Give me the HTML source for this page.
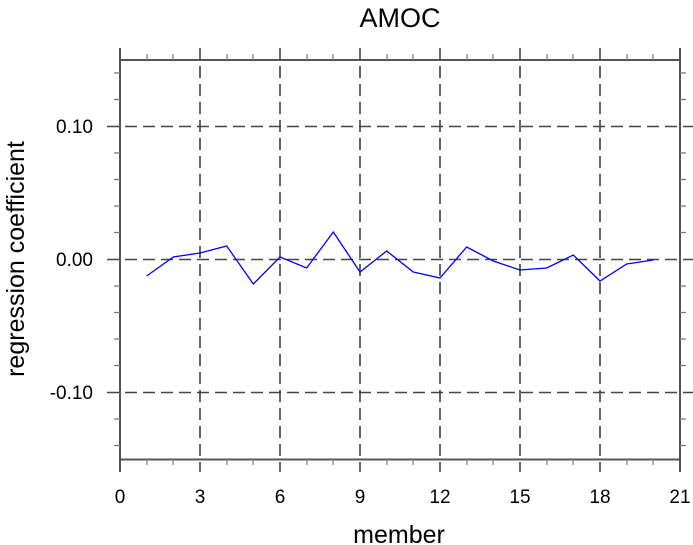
<!DOCTYPE html>
<html><head><style>body{margin:0;background:#fff}svg{display:block}</style></head>
<body>
<svg width="693" height="545" xmlns="http://www.w3.org/2000/svg" font-family="Liberation Sans, sans-serif">
<g stroke="#666" stroke-width="2" stroke-dasharray="12,6" fill="none">
<line x1="200" y1="48" x2="200" y2="472"/><line x1="280" y1="48" x2="280" y2="472"/>
<line x1="360" y1="48" x2="360" y2="472"/><line x1="440" y1="48" x2="440" y2="472"/>
<line x1="520" y1="48" x2="520" y2="472"/><line x1="600" y1="48" x2="600" y2="472"/>
</g>
<g stroke="#444" stroke-width="1.5" stroke-dasharray="12,6" fill="none">
<line x1="107" y1="126.5" x2="693" y2="126.5"/><line x1="107" y1="259.5" x2="693" y2="259.5"/>
<line x1="107" y1="392.5" x2="693" y2="392.5"/>
</g>
<g stroke="#555" stroke-width="2" fill="none">
<rect x="120" y="60" width="560" height="399.5"/>
<line x1="120" y1="48" x2="120" y2="472"/><line x1="680" y1="48" x2="680" y2="472"/>
</g>
<g stroke="#777" stroke-width="1.2">
<path d="M147 60v-6M173 60v-6M227 60v-6M253 60v-6M307 60v-6M333 60v-6M387 60v-6M413 60v-6M467 60v-6M493 60v-6M547 60v-6M573 60v-6M627 60v-6M653 60v-6"/>
<path d="M147 459v6M173 459v6M227 459v6M253 459v6M307 459v6M333 459v6M387 459v6M413 459v6M467 459v6M493 459v6M547 459v6M573 459v6M627 459v6M653 459v6"/>
<path d="M120 73h-6M120 99.5h-6M120 153h-6M120 179.5h-6M120 206h-6M120 232.5h-6M120 286h-6M120 312.5h-6M120 339h-6M120 365.5h-6M120 419h-6M120 445.5h-6"/>
<path d="M680 73h6M680 99.5h6M680 153h6M680 179.5h6M680 206h6M680 232.5h6M680 286h6M680 312.5h6M680 339h6M680 365.5h6M680 419h6M680 445.5h6"/>
</g>
<polyline fill="none" stroke="#0000ff" stroke-width="1.3" points="146.7,276 173.3,257 200,253 226.7,246 253.3,284 280,257 306.7,268 333.3,232 360,272 386.7,251 413.3,272 440,278 466.7,247 493.3,261 520,270 546.7,268 573.3,255 600,281 626.7,264 653.3,260"/>
<text x="400" y="27" font-size="27" text-anchor="middle">AMOC</text>
<g font-size="19" text-anchor="middle">
<text x="120" y="503">0</text><text x="200" y="503">3</text><text x="280" y="503">6</text><text x="360" y="503">9</text>
<text x="440" y="503">12</text><text x="520" y="503">15</text><text x="600" y="503">18</text><text x="680" y="503">21</text>
</g>
<g font-size="19" text-anchor="end">
<text x="93" y="133">0.10</text><text x="93" y="266">0.00</text><text x="93" y="399">-0.10</text>
</g>
<text x="399" y="543" font-size="25" text-anchor="middle">member</text>
<text transform="translate(24,259) rotate(-90)" font-size="25" text-anchor="middle">regression coefficient</text>
</svg>
</body></html>
